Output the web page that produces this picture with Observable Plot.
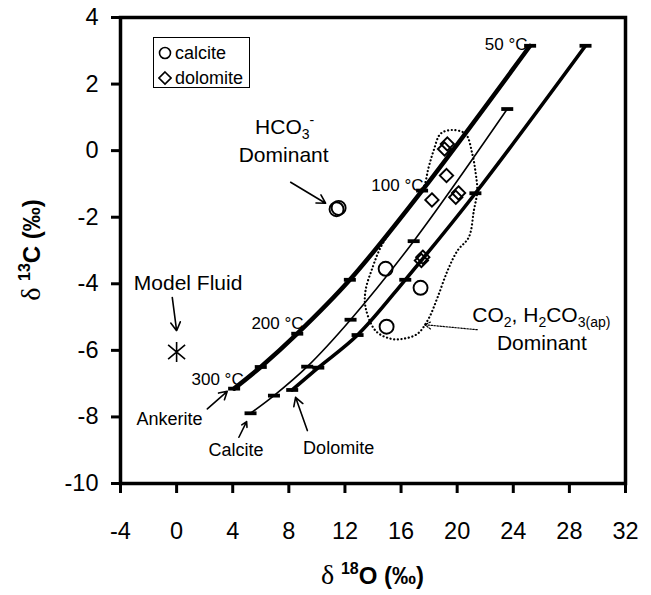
<!DOCTYPE html>
<html><head><meta charset="utf-8">
<script src="https://cdn.jsdelivr.net/npm/d3@7"></script>
<script src="https://cdn.jsdelivr.net/npm/@observablehq/plot@0.6"></script>
<style>
body{margin:0;background:#fff;font-family:"Liberation Sans",Arial,sans-serif;}
#wrap{position:relative;width:651px;height:595px;}
#legend{position:absolute;left:153px;top:37px;width:95px;height:49px;border:1.5px solid #000;background:#fff;font-size:18px;color:#000;}
#legend .row{position:absolute;left:4px;height:20px;display:flex;align-items:center;}
#legend .row svg{margin-right:3px;}
</style></head><body><div id="wrap"></div>
<script>
// ---------- data ----------
const xTicks = [-4, 0, 4, 8, 12, 16, 20, 24, 28, 32];
const yTicks = [4, 2, 0, -2, -4, -6, -8, -10];

// equilibrium curves (temperature marks 300 -> 50 °C)
const ankeriteX = [4.1, 6.0, 8.6, 12.35, 17.5, 25.2];
const ankeriteY = [-7.15, -6.5, -5.5, -3.88, -1.2, 3.15];
const calciteX = [5.27, 6.94, 9.31, 12.4, 16.9, 23.57];
const calciteY = [-7.89, -7.36, -6.49, -5.08, -2.72, 1.25];
const dolomiteX = [8.24, 10.1, 12.9, 16.3, 21.3, 29.15];
const dolomiteY = [-7.19, -6.52, -5.54, -3.88, -1.28, 3.15];

// samples
const calciteSampleX = [11.4, 11.55, 14.9, 17.39, 14.97];
const calciteSampleY = [-1.76, -1.72, -3.55, -4.12, -5.29];
const dolomiteSampleX = [19.1, 19.3, 19.24, 18.2, 19.9, 20.1, 17.45, 17.55];
const dolomiteSampleY = [0.05, 0.2, -0.75, -1.48, -1.4, -1.27, -3.3, -3.2];

// model fluid
const modelFluidX = [0];
const modelFluidY = [-6.05];

// dotted envelope (CO2, H2CO3 dominant field)
const envX = [19.65, 20.6, 21.08, 21.31, 21.43, 21.19, 20.83, 20.03, 19.32, 18.6, 17.96, 17.18, 16.18, 15.25, 14.18, 13.47, 13.47, 13.97, 14.54, 15.4, 16.68, 17.6, 17.96, 18.32, 18.82];
const envY = [0.62, 0.5, -0.1, -0.65, -1.2, -1.8, -2.6, -3.0, -3.6, -4.41, -5.05, -5.5, -5.65, -5.65, -5.41, -4.71, -4.2, -3.51, -2.91, -2.34, -1.65, -1.11, -0.51, 0.0, 0.51];

// temperature labels
const tempLabels = ["50 °C", "100 °C", "200 °C", "300 °C"];
const tempLabelX = [25.02, 17.6, 9.05, 4.78];
const tempLabelY = [3.2, -1.05, -5.18, -6.89];

// large annotations
const bigLabels = ["HCO3-", "Dominant", "Model Fluid", "CO2, H2CO3(ap)", "Dominant"];
const bigLabelX = [7.7, 7.63, 0.82, 26.0, 26.04];
const bigLabelY = [0.7, -0.15, -3.98, -4.94, -5.78];

// curve name labels
const curveLabels = ["Ankerite", "Calcite", "Dolomite"];
const curveLabelX = [-0.5, 4.24, 11.55];
const curveLabelY = [-8.06, -9.0, -8.93];

// arrows
const arrowX1 = [8.13, -0.31, 2.19, 4.44, 9.32];
const arrowY1 = [-0.95, -4.41, -7.76, -8.61, -8.41];
const arrowX2 = [10.62, 0.0, 3.61, 4.99, 8.48];
const arrowY2 = [-1.58, -5.41, -7.23, -8.14, -7.41];
const dotArrowX1 = [21.43], dotArrowY1 = [-5.38], dotArrowX2 = [17.68], dotArrowY2 = [-5.23];

const legendLabels = ["calcite", "dolomite"];

// ---------- build ----------
const pts = (xs, ys) => xs.map((x, i) => ({x, y: ys[i]}));
const labs = (t, xs, ys) => t.map((s, i) => ({s, x: xs[i], y: ys[i]}));
const arr = (a, b, c, d) => a.map((v, i) => ({x1: v, y1: b[i], x2: c[i], y2: d[i]}));

const bar = {draw(ctx, size) { const r = Math.sqrt(size / Math.PI); ctx.moveTo(-r, 0); ctx.lineTo(r, 0); }};
const star = {draw(ctx, size) { const r = Math.sqrt(size / Math.PI);
  ctx.moveTo(0, -r); ctx.lineTo(0, r);
  ctx.moveTo(-0.85 * r, -0.72 * r); ctx.lineTo(0.85 * r, 0.72 * r);
  ctx.moveTo(0.85 * r, -0.72 * r); ctx.lineTo(-0.85 * r, 0.72 * r); }};

const fmt = d => String(d);
const curveStyle = {x: "x", y: "y", curve: "catmull-rom", stroke: "#000"};

const svg = Plot.plot({
  width: 651, height: 595,
  marginLeft: 120, marginRight: 26, marginTop: 17, marginBottom: 112,
  x: {domain: [-4, 32]},
  y: {domain: [-10, 4]},
  style: {fontFamily: "'Liberation Sans', Arial, sans-serif", fontSize: "23px", color: "#000", background: "#fff"},
  marks: [
    Plot.axisX({ticks: xTicks, tickFormat: fmt, tickSize: 10, tickPadding: 29, strokeWidth: 3, fontSize: 23.5, label: null}),
    Plot.axisY({ticks: yTicks, tickFormat: fmt, tickSize: 9, tickPadding: 13, strokeWidth: 3, fontSize: 23.5, label: null}),
    Plot.line(pts(envX, envY), {x: "x", y: "y", curve: "catmull-rom-closed", stroke: "#000", strokeWidth: 2.2, strokeDasharray: "0.1,3.6", strokeLinecap: "round"}),
    Plot.line(pts(ankeriteX, ankeriteY), {...curveStyle, strokeWidth: 4.5}),
    Plot.line(pts(calciteX, calciteY), {...curveStyle, strokeWidth: 1.6}),
    Plot.line(pts(dolomiteX, dolomiteY), {...curveStyle, strokeWidth: 3.6}),
    Plot.dot(pts(ankeriteX, ankeriteY), {x: "x", y: "y", symbol: bar, r: 6, stroke: "#000", fill: "none", strokeWidth: 3.8}),
    Plot.dot(pts(calciteX, calciteY), {x: "x", y: "y", symbol: bar, r: 6, stroke: "#000", fill: "none", strokeWidth: 3.8}),
    Plot.dot(pts(dolomiteX, dolomiteY), {x: "x", y: "y", symbol: bar, r: 6, stroke: "#000", fill: "none", strokeWidth: 3.8}),
    Plot.dot(pts(calciteSampleX, calciteSampleY), {x: "x", y: "y", symbol: "circle", r: 7, stroke: "#000", fill: "none", strokeWidth: 1.9}),
    Plot.dot(pts(dolomiteSampleX, dolomiteSampleY), {x: "x", y: "y", symbol: "diamond2", r: 6, stroke: "#000", fill: "none", strokeWidth: 1.9}),
    Plot.dot(pts(modelFluidX, modelFluidY), {x: "x", y: "y", symbol: star, r: 10, stroke: "#000", fill: "none", strokeWidth: 1.6}),
    Plot.arrow(arr(arrowX1, arrowY1, arrowX2, arrowY2), {x1: "x1", y1: "y1", x2: "x2", y2: "y2", stroke: "#000", strokeWidth: 1.6, headLength: 9}),
    Plot.arrow(arr(dotArrowX1, dotArrowY1, dotArrowX2, dotArrowY2), {x1: "x1", y1: "y1", x2: "x2", y2: "y2", stroke: "#000", strokeWidth: 1.2, headLength: 9, strokeDasharray: "1.5,1.5"}),
    Plot.text(labs(tempLabels, tempLabelX, tempLabelY), {x: "x", y: "y", text: "s", textAnchor: "end", fontSize: 17, fill: "#000"}),
    Plot.text(labs(bigLabels, bigLabelX, bigLabelY), {x: "x", y: "y", text: "s", textAnchor: "middle", fontSize: 21, fill: "#000"}),
    Plot.text(labs(curveLabels, curveLabelX, curveLabelY), {x: "x", y: "y", text: "s", textAnchor: "middle", fontSize: 18, fill: "#000"}),
    Plot.frame({stroke: "#000", strokeWidth: 3.5})
  ]
});

// rich text (sub/superscripts)
const rich = {
  "HCO3-": 'HCO<tspan dy="5" font-size="14">3</tspan><tspan dy="-14" font-size="14">-</tspan>',
  "CO2, H2CO3(ap)": 'CO<tspan dy="5" font-size="14">2</tspan><tspan dy="-5">, H</tspan><tspan dy="5" font-size="14">2</tspan><tspan dy="-5">CO</tspan><tspan dy="5" font-size="14">3(ap)</tspan>'
};
d3.select(svg).selectAll("text").each(function() {
  const t = this.textContent;
  if (rich[t]) this.innerHTML = rich[t];
});

// axis titles
const W = 651, H = 595, mL = 120, mR = 26, mT = 17, mB = 112;
const g = d3.select(svg).append("g").attr("fill", "#000").attr("font-weight", "bold").attr("font-size", 24);
g.append("text").attr("x", (mL + W - mR) / 2).attr("y", 584).attr("text-anchor", "middle")
  .html('<tspan font-family="Liberation Serif, serif" font-weight="normal" font-size="28">δ</tspan> <tspan dy="-10" font-size="16">18</tspan><tspan dy="10">O (‰)</tspan>');
g.append("text").attr("transform", `translate(40,${(mT + H - mB) / 2}) rotate(-90)`).attr("text-anchor", "middle")
  .html('<tspan font-family="Liberation Serif, serif" font-weight="normal" font-size="28">δ</tspan> <tspan dy="-10" font-size="16">13</tspan><tspan dy="10">C (‰)</tspan>');

const wrap = document.getElementById("wrap");
wrap.appendChild(svg);

// legend
const leg = document.createElement("div");
leg.id = "legend";
const symbols = [
  '<svg width="14" height="16"><circle cx="7" cy="8" r="5.5" fill="none" stroke="#000" stroke-width="1.6"/></svg>',
  '<svg width="14" height="16"><path d="M7,2 L13,8 L7,14 L1,8 Z" fill="none" stroke="#000" stroke-width="1.6"/></svg>'
];
legendLabels.forEach((s, i) => {
  const r = document.createElement("div");
  r.className = "row";
  r.style.top = (5 + i * 25) + "px";
  r.innerHTML = symbols[i] + "<span>" + s + "</span>";
  leg.appendChild(r);
});
wrap.appendChild(leg);
</script></body></html>
